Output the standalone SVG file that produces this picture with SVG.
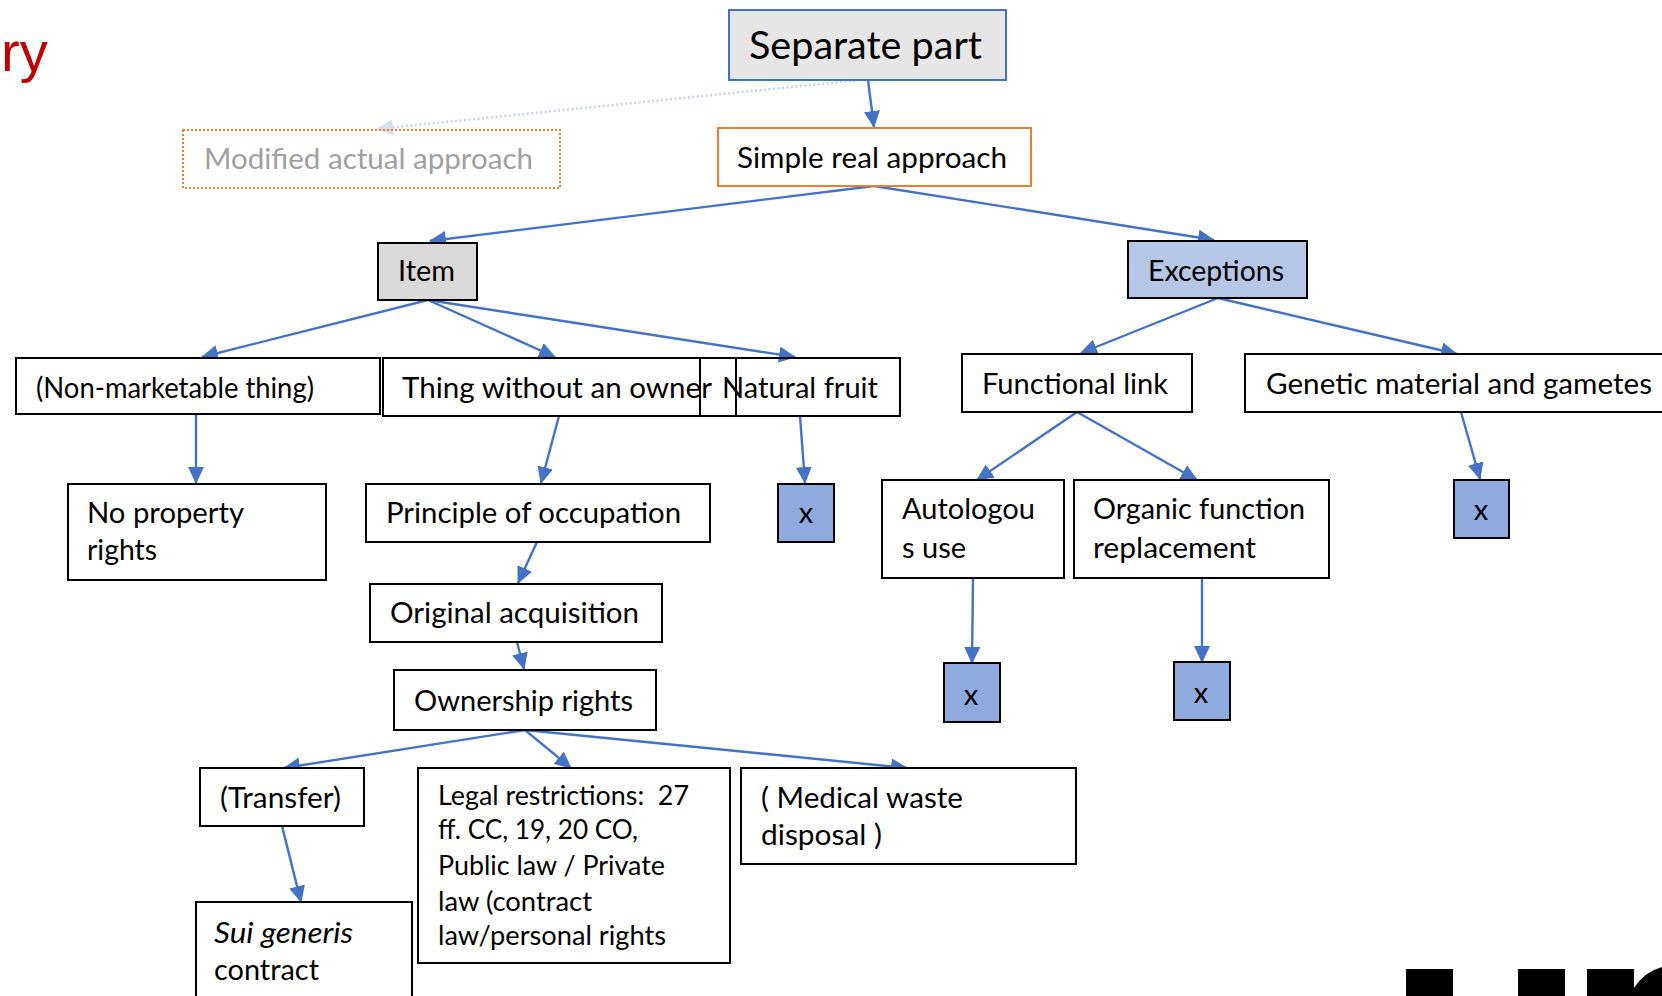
<svg xmlns="http://www.w3.org/2000/svg" width="1662" height="996" viewBox="0 0 1662 996">
  <style>
    text { font-family: "Lato", "Liberation Sans", sans-serif; font-size: 29px; fill: #000; }
    .box { fill: #fff; stroke: #000; stroke-width: 2; }
    .open { fill: none; stroke: #000; stroke-width: 2; }
    .xbox { fill: #8FAADC; stroke: #000; stroke-width: 2; }
    .link { fill: none; stroke: #4472C4; stroke-width: 2.4; marker-end: url(#ah); }
    .faint { fill: none; stroke: #C5D4EE; stroke-width: 2.5; stroke-dasharray: 2 2.5; marker-end: url(#ahFaint); }
    .legal { font-size: 27px; }
  </style>
  <defs>
    <marker id="ah" viewBox="0 0 17 16" refX="16" refY="8" markerWidth="17" markerHeight="16" markerUnits="userSpaceOnUse" orient="auto">
      <path d="M0,0 L17,8 L0,16 z" fill="#4472C4"/>
    </marker>
    <marker id="ahFaint" viewBox="0 0 17 16" refX="16" refY="8" markerWidth="17" markerHeight="16" markerUnits="userSpaceOnUse" orient="auto">
      <path d="M0,0 L17,8 L0,16 z" fill="#D3DEF2"/>
    </marker>
  </defs>

  <rect width="1662" height="996" fill="#fff"/>

  <!-- title fragment -->
  <text x="1" y="71" style="font-family:'Liberation Sans',sans-serif;font-size:56px;fill:#C00000">ry</text>

  <!-- connectors -->
  <g id="connectors">
    <line class="faint" x1="860" y1="80" x2="377" y2="129"/>
    <line class="link" x1="868" y1="80" x2="874" y2="127"/>
    <line class="link" x1="874" y1="186" x2="430" y2="241"/>
    <line class="link" x1="874" y1="186" x2="1214" y2="240"/>
    <line class="link" x1="428" y1="300" x2="202" y2="357"/>
    <line class="link" x1="428" y1="300" x2="555" y2="357"/>
    <line class="link" x1="428" y1="300" x2="795" y2="357"/>
    <line class="link" x1="196" y1="414" x2="196" y2="483"/>
    <line class="link" x1="559" y1="416" x2="541" y2="483"/>
    <line class="link" x1="537" y1="542" x2="518" y2="583"/>
    <line class="link" x1="800" y1="416" x2="805" y2="483"/>
    <line class="link" x1="517" y1="642" x2="524" y2="669"/>
    <line class="link" x1="525" y1="730" x2="284" y2="768"/>
    <line class="link" x1="525" y1="730" x2="571" y2="768"/>
    <line class="link" x1="525" y1="730" x2="907" y2="768"/>
    <line class="link" x1="282" y1="826" x2="301" y2="902"/>
    <line class="link" x1="1218" y1="298" x2="1081" y2="353"/>
    <line class="link" x1="1218" y1="298" x2="1457" y2="354"/>
    <line class="link" x1="1077" y1="412" x2="977" y2="480"/>
    <line class="link" x1="1077" y1="412" x2="1197" y2="480"/>
    <line class="link" x1="973" y1="578" x2="972" y2="663"/>
    <line class="link" x1="1202" y1="578" x2="1202" y2="662"/>
    <line class="link" x1="1461" y1="412" x2="1480" y2="479"/>
  </g>

  <g id="separate-part">
    <rect x="729" y="10" width="277" height="70" fill="#E7E6E6" stroke="#4472C4" stroke-width="2"/>
    <text x="749" y="59" style="font-size:39px" textLength="233" lengthAdjust="spacingAndGlyphs">Separate part</text>
  </g>

  <g id="modified-actual">
    <rect x="183" y="130" width="377" height="58" fill="none" stroke="#ED7D31" stroke-width="2" stroke-dasharray="2 2"/>
    <text x="204" y="169" style="fill:#A0A0A0" textLength="329" lengthAdjust="spacingAndGlyphs">Modified actual approach</text>
  </g>

  <g id="simple-real">
    <rect x="718" y="128" width="313" height="58" fill="#fff" stroke="#ED7D31" stroke-width="2"/>
    <text x="737" y="168" textLength="270" lengthAdjust="spacingAndGlyphs">Simple real approach</text>
  </g>

  <g id="item">
    <rect x="378" y="243" width="99" height="57" fill="#D9D9D9" stroke="#000" stroke-width="2"/>
    <text x="398" y="281" textLength="57" lengthAdjust="spacingAndGlyphs">Item</text>
  </g>

  <g id="exceptions">
    <rect x="1128" y="241" width="179" height="57" fill="#B4C7E7" stroke="#000" stroke-width="2"/>
    <text x="1148" y="281" textLength="136" lengthAdjust="spacingAndGlyphs">Exceptions</text>
  </g>

  <g id="non-marketable">
    <rect class="box" x="16" y="358" width="364" height="56"/>
    <text x="36" y="398" textLength="278" lengthAdjust="spacingAndGlyphs">(Non-marketable thing)</text>
  </g>

  <g id="thing-without-owner">
    <rect class="open" x="383" y="358" width="353" height="58"/>
    <text x="402" y="398" textLength="310" lengthAdjust="spacingAndGlyphs">Thing without an owner</text>
  </g>

  <g id="natural-fruit">
    <rect class="open" x="700" y="358" width="200" height="58"/>
    <text x="722" y="398" textLength="156" lengthAdjust="spacingAndGlyphs">Natural fruit</text>
  </g>

  <g id="functional-link">
    <rect class="box" x="962" y="354" width="230" height="58"/>
    <text x="982" y="394" textLength="186" lengthAdjust="spacingAndGlyphs">Functional link</text>
  </g>

  <g id="genetic-material">
    <rect class="box" x="1245" y="354" width="420" height="58"/>
    <text x="1266" y="394" textLength="386" lengthAdjust="spacingAndGlyphs">Genetic material and gametes</text>
  </g>

  <g id="no-property">
    <rect class="box" x="68" y="484" width="258" height="96"/>
    <text x="87" y="523" textLength="157" lengthAdjust="spacingAndGlyphs">No property</text>
    <text x="87" y="560" textLength="70" lengthAdjust="spacingAndGlyphs">rights</text>
  </g>

  <g id="principle-occupation">
    <rect class="box" x="366" y="484" width="344" height="58"/>
    <text x="386" y="523" textLength="295" lengthAdjust="spacingAndGlyphs">Principle of occupation</text>
  </g>

  <g id="fruit-x">
    <rect class="xbox" x="778" y="484" width="56" height="58"/>
    <text x="806" y="523" text-anchor="middle">x</text>
  </g>

  <g id="autologous">
    <rect class="box" x="882" y="480" width="182" height="98"/>
    <text x="902" y="519" textLength="133" lengthAdjust="spacingAndGlyphs">Autologou</text>
    <text x="902" y="558" textLength="64" lengthAdjust="spacingAndGlyphs">s use</text>
  </g>

  <g id="organic-replacement">
    <rect class="box" x="1074" y="480" width="255" height="98"/>
    <text x="1093" y="519" textLength="212" lengthAdjust="spacingAndGlyphs">Organic function</text>
    <text x="1093" y="558" textLength="163" lengthAdjust="spacingAndGlyphs">replacement</text>
  </g>

  <g id="genetic-x">
    <rect class="xbox" x="1454" y="480" width="55" height="58"/>
    <text x="1481" y="520" text-anchor="middle">x</text>
  </g>

  <g id="original-acquisition">
    <rect class="box" x="370" y="584" width="292" height="58"/>
    <text x="390" y="623" textLength="249" lengthAdjust="spacingAndGlyphs">Original acquisition</text>
  </g>

  <g id="ownership-rights">
    <rect class="box" x="394" y="670" width="262" height="60"/>
    <text x="414" y="711" textLength="219" lengthAdjust="spacingAndGlyphs">Ownership rights</text>
  </g>

  <g id="autologous-x">
    <rect class="xbox" x="944" y="663" width="56" height="59"/>
    <text x="971" y="705" text-anchor="middle">x</text>
  </g>

  <g id="organic-x">
    <rect class="xbox" x="1174" y="662" width="56" height="58"/>
    <text x="1201" y="703" text-anchor="middle">x</text>
  </g>

  <g id="transfer">
    <rect class="box" x="200" y="768" width="164" height="58"/>
    <text x="220" y="808" textLength="121" lengthAdjust="spacingAndGlyphs">(Transfer)</text>
  </g>

  <g id="legal-restrictions">
    <rect class="box" x="418" y="768" width="312" height="195"/>
    <text class="legal" x="438" y="805" textLength="251" lengthAdjust="spacingAndGlyphs">Legal restrictions:&#160; 27</text>
    <text class="legal" x="438" y="839" textLength="200" lengthAdjust="spacingAndGlyphs">ff. CC, 19, 20 CO,</text>
    <text class="legal" x="438" y="875" textLength="227" lengthAdjust="spacingAndGlyphs">Public law / Private</text>
    <text class="legal" x="438" y="911" textLength="154" lengthAdjust="spacingAndGlyphs">law (contract</text>
    <text class="legal" x="438" y="945" textLength="228" lengthAdjust="spacingAndGlyphs">law/personal rights</text>
  </g>

  <g id="medical-waste">
    <rect class="box" x="741" y="768" width="335" height="96"/>
    <text x="761" y="808" textLength="202" lengthAdjust="spacingAndGlyphs">( Medical waste</text>
    <text x="761" y="845" textLength="121" lengthAdjust="spacingAndGlyphs">disposal )</text>
  </g>

  <g id="sui-generis">
    <rect class="box" x="196" y="902" width="216" height="100"/>
    <text x="214" y="943" style="font-style:italic" textLength="139" lengthAdjust="spacingAndGlyphs">Sui generis</text>
    <text x="214" y="980" textLength="105" lengthAdjust="spacingAndGlyphs">contract</text>
  </g>

  <!-- logo fragment, bottom right -->
  <g id="logo" fill="#000">
    <rect x="1406" y="969" width="47" height="30"/>
    <rect x="1518" y="969" width="47" height="30"/>
    <path d="M1587,969 H1634 V988 Q1644,972 1662,967 V999 H1587 Z"/>
  </g>
</svg>
